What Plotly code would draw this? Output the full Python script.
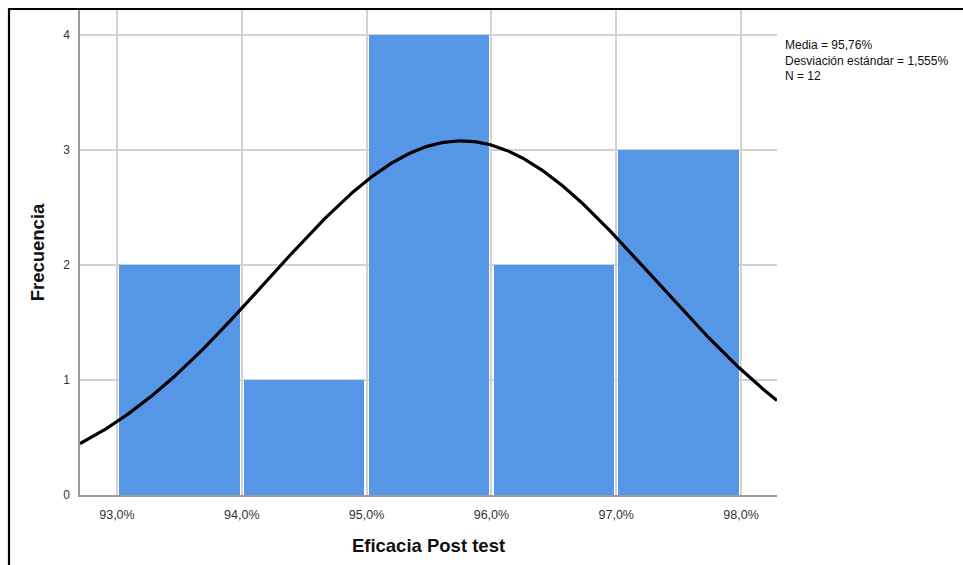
import numpy as np
import plotly.graph_objects as go

# Histogram bins (Eficacia Post test, %) and frequencies
bin_left = [93.0, 94.0, 95.0, 96.0, 97.0]
bin_width = 1.0
frecuencias = [2, 1, 4, 2, 3]

# Summary statistics
media = 95.76
desv = 1.555
n = 12

x_ticks = [93.0, 94.0, 95.0, 96.0, 97.0, 98.0]
x_tick_labels = ["93,0%", "94,0%", "95,0%", "96,0%", "97,0%", "98,0%"]
y_ticks = [0, 1, 2, 3, 4]

FONT = "Arial, Liberation Sans, sans-serif"

# plot-area geometry (pixels) used for the outer frame and the stats box
W, H = 963, 565
ML, MR, MT, MB = 80, 186, 10, 70
pw, ph = W - ML - MR, H - MT - MB

x_range = [92.704, 98.288]
y_range = [0, 4.217]

centers = [b + bin_width / 2 for b in bin_left]

fig = go.Figure()
fig.add_trace(go.Bar(
    x=centers, y=frecuencias, width=0.965,
    marker=dict(color="#5596E6", line=dict(width=0)),
    hoverinfo="skip", showlegend=False,
))

# fitted normal curve scaled to counts
xs = np.linspace(x_range[0], x_range[1], 300)
ys = n * bin_width / (desv * np.sqrt(2 * np.pi)) * np.exp(-0.5 * ((xs - media) / desv) ** 2)
fig.add_trace(go.Scatter(
    x=xs, y=ys, mode="lines",
    line=dict(color="black", width=3.2),
    hoverinfo="skip", showlegend=False,
))

def px_to_paper_x(px):
    return (px - ML) / pw

def px_to_paper_y(py):
    return (H - MB - py) / ph

shapes = [
    dict(type="line", xref="paper", yref="paper",
         x0=px_to_paper_x(9), x1=px_to_paper_x(9),
         y0=px_to_paper_y(570), y1=px_to_paper_y(8.5),
         line=dict(color="black", width=2.2)),
    dict(type="line", xref="paper", yref="paper",
         x0=px_to_paper_x(8), x1=px_to_paper_x(970),
         y0=px_to_paper_y(9), y1=px_to_paper_y(9),
         line=dict(color="black", width=2.2)),
]

stats_text = "<br>".join([
    f"Media = {media:.2f}%".replace(".", ","),
    f"Desviación estándar = {desv:.3f}%".replace(".", ","),
    f"N = {n}",
])

fig.update_layout(
    width=W, height=H,
    margin=dict(l=ML, r=MR, t=MT, b=MB, pad=0),
    paper_bgcolor="white", plot_bgcolor="white",
    bargap=0,
    shapes=shapes,
    annotations=[dict(
        xref="paper", yref="paper",
        x=px_to_paper_x(784), y=px_to_paper_y(37),
        xanchor="left", yanchor="top", align="left", showarrow=False,
        text=stats_text, borderpad=0,
        font=dict(size=12, color="#111111", family=FONT),
    )],
    font=dict(family=FONT, color="#222222"),
    xaxis=dict(
        range=x_range, tickvals=x_ticks, ticktext=x_tick_labels,
        showgrid=True, gridcolor="#D2D2D2", gridwidth=1.5,
        showline=True, linecolor="#9A9A9A", linewidth=1.5,
        ticks="", zeroline=False,
        tickfont=dict(size=12.5, color="#333333", family=FONT),
        ticklabelstandoff=7,
        title=dict(text="<b>Eficacia Post test</b>", font=dict(size=18.5, color="#111111", family=FONT), standoff=18),
    ),
    yaxis=dict(
        range=y_range, tickvals=y_ticks,
        showgrid=True, gridcolor="#D2D2D2", gridwidth=1.5,
        showline=True, linecolor="#9A9A9A", linewidth=1.5,
        ticks="", zeroline=False,
        tickfont=dict(size=12, color="#333333", family=FONT),
        ticklabelstandoff=6,
        title=dict(text="<b>Frecuencia</b>", font=dict(size=18.5, color="#111111", family=FONT), standoff=14),
    ),
)

fig.write_html("out.html")
